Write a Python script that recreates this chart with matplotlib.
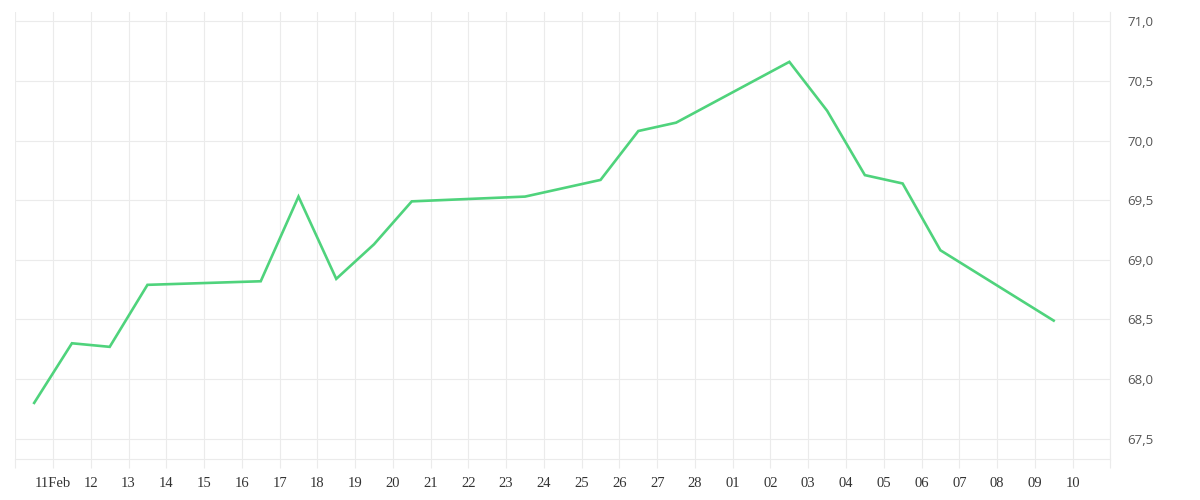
import matplotlib
matplotlib.use('Agg')
import matplotlib.pyplot as plt
import pandas as pd

# closing values, one per trading day
dates = ['2015-02-10', '2015-02-11', '2015-02-12', '2015-02-13',
         '2015-02-16', '2015-02-17', '2015-02-18', '2015-02-19', '2015-02-20',
         '2015-02-23', '2015-02-25', '2015-02-26', '2015-02-27',
         '2015-03-02', '2015-03-03', '2015-03-04', '2015-03-05', '2015-03-06',
         '2015-03-09']
values = [67.80, 68.30, 68.27, 68.79,
          68.82, 69.53, 68.84, 69.13, 69.49,
          69.53, 69.67, 70.08, 70.15,
          70.66, 70.25, 69.71, 69.64, 69.08,
          68.49]
yticks = [67.5, 68.0, 68.5, 69.0, 69.5, 70.0, 70.5, 71.0]

grid_col = '#ebebeb'
line_col = '#4fd37c'

x = pd.to_datetime(dates) + pd.Timedelta(hours=12)
days = pd.date_range('2015-02-10', '2015-03-11', freq='D')
day_labels = []
for i, d in enumerate(days):
  if i == 0 or i == len(days) - 1:
    day_labels.append('')
  elif i == 1:
    day_labels.append(d.strftime('%d%b'))
  else:
    day_labels.append(d.strftime('%d'))

fig = plt.figure(figsize=(12, 5), dpi=100)
ax = fig.add_axes([15.3/1200, 1 - 458.7/500, 1095/1200, 446.7/500])

ax.plot(x, values, color=line_col, linewidth=1.9, solid_joinstyle='miter', zorder=3)

ax.set_xlim(days[0], days[-1])
ax.set_ylim(67.332, 71.078)

ax.set_xticks(days)
ax.set_xticklabels(day_labels, fontsize=10.5, family='Liberation Serif', color='#333333')
ax.set_yticks(yticks)
ax.set_yticklabels([('%.1f' % v).replace('.', ',') for v in yticks],
                   fontsize=9.5, family='Open Sans', color='#555555')
ax.yaxis.tick_right()

ax.tick_params(axis='x', length=6.7, width=0.8, color=grid_col, pad=6.5)
ax.tick_params(axis='y', length=0, pad=12)

ax.grid(True, color=grid_col, linewidth=0.8)
ax.set_axisbelow(True)
for s in ['top', 'left']:
  ax.spines[s].set_visible(False)
for s in ['bottom', 'right']:
  ax.spines[s].set_color(grid_col)
  ax.spines[s].set_linewidth(0.8)

fig.savefig('out.png', dpi=100)
